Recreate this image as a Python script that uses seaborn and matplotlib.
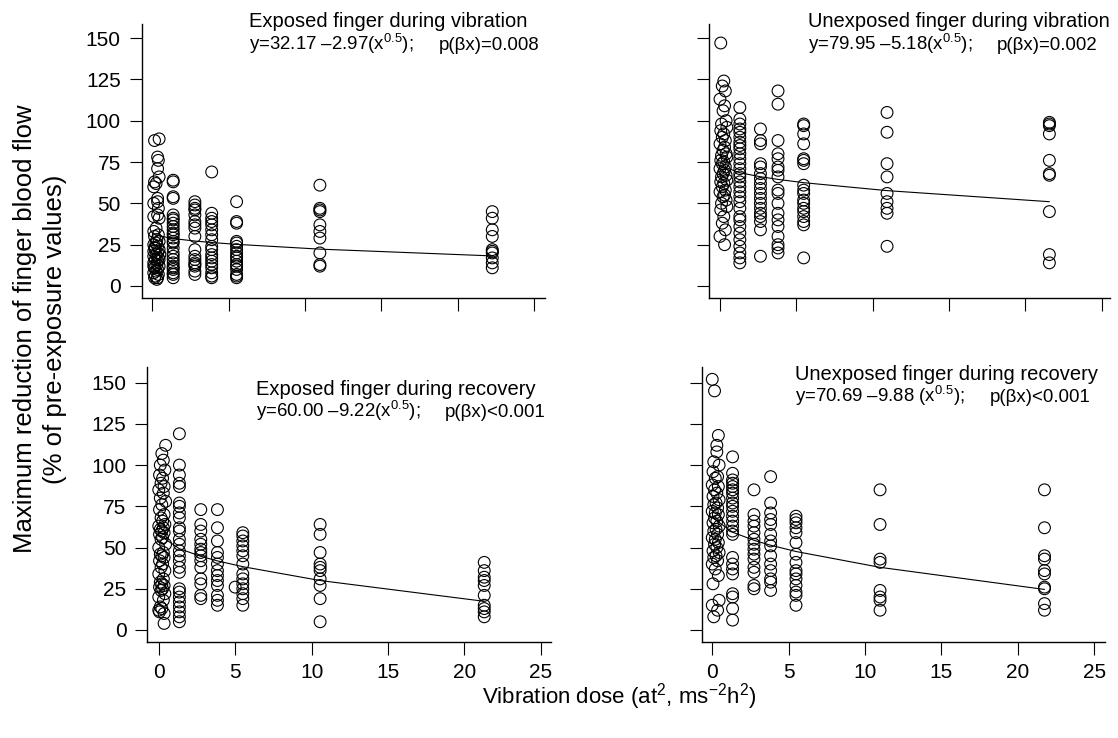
import matplotlib
matplotlib.use("Agg")
import matplotlib.pyplot as plt
import numpy as np
import pandas as pd
import seaborn as sns

# ------------------------------------------------------------------ data
DOSE_TICKS = [0, 5, 10, 15, 20, 25]
Y_TICKS = [0, 25, 50, 75, 100, 125, 150]

# Panel 1: exposed finger during vibration
EV_LOW_X = [0.15, 0.45, 0.35, 0.40, 0.35, 0.45, 0.15, 0.10, 0.25, 0.35,
            0.10, 0.35, 0.40, 0.10, 0.35, 0.45, 0.25, 0.10, 0.40, 0.15,
            0.30, 0.45, 0.10, 0.35, 0.20, 0.45, 0.10, 0.35, 0.25, 0.10,
            0.40, 0.20, 0.35, 0.10, 0.30, 0.45, 0.15, 0.35, 0.25, 0.10,
            0.40, 0.20, 0.35, 0.15, 0.30, 0.50, 0.15, 0.25, 0.45, 0.10]
EV_LOW_Y = [88, 89, 78, 76, 71, 66, 63, 60, 62, 53,
            50, 51, 47, 42, 43, 41, 35, 33, 31, 30,
            28, 27, 25, 24, 23, 22, 21, 20, 19, 18,
            17, 16, 15, 14, 13, 12, 11, 10, 9, 8,
            7, 6, 5, 5, 4, 19, 23, 26, 16, 12]
EV_DOSES = [1.37, 2.79, 3.89, 5.52, 10.97, 22.25]
EV_C1 = [63, 64, 54, 53, 43, 41, 40, 38, 36, 34, 32, 31, 29, 27, 26, 23,
         20, 18, 16, 14, 12, 11, 10, 8, 7, 5]
EV_C2 = [51, 49, 47, 46, 43, 39, 37, 35, 30, 22, 18, 16, 14, 13, 12, 9, 7]
EV_C3 = [69, 44, 41, 39, 37, 34, 31, 28, 24, 22, 19, 17, 15, 13, 11, 8, 6, 5]
EV_C4 = [51, 39, 38, 27, 26, 24, 22, 20, 18, 17, 15, 13, 12, 10, 7, 6, 5]
EV_C5 = [61, 47, 46, 45, 37, 33, 29, 20, 13, 12]
EV_C6 = [45, 41, 34, 30, 22, 21, 20, 17, 14, 11]
EV_FIT_X = [0.2, 1.37, 2.79, 3.89, 5.52, 10.97, 22.25]
EV_FIT_Y = [30.8, 28.7, 27.2, 26.3, 25.2, 22.3, 18.2]

# Panel 2: unexposed finger during vibration
UV_LOW_X = [0.05, 0.25, 0.15, 0.35, 0.00, 0.30, 0.20, 0.40, 0.10, 0.45,
            0.05, 0.25, 0.15, 0.35, 0.00, 0.30, 0.20, 0.40, 0.10, 0.45,
            0.05, 0.25, 0.15, 0.35, 0.00, 0.30, 0.20, 0.40, 0.10, 0.45,
            0.05, 0.25, 0.15, 0.35, 0.00, 0.30, 0.20, 0.40, 0.10, 0.45,
            0.05, 0.25, 0.15, 0.35, 0.00, 0.30]
UV_LOW_Y = [147, 124, 121, 118, 113, 109, 106, 100, 98, 96,
            94, 92, 90, 88, 86, 84, 82, 80, 79, 78,
            76, 75, 74, 72, 71, 70, 68, 67, 66, 64,
            63, 62, 60, 58, 57, 55, 54, 52, 50, 48,
            46, 42, 38, 34, 30, 25]
UV_DOSES = [1.30, 2.65, 3.80, 5.48, 10.94, 21.57]
UV_C1 = [108, 101, 98, 95, 93, 90, 87, 85, 83, 80, 77, 74, 71, 68, 66, 63,
         60, 57, 54, 51, 47, 42, 40, 36, 32, 28, 24, 20, 17, 14]
UV_C2 = [95, 88, 86, 74, 72, 68, 65, 62, 59, 56, 53, 50, 47, 44, 42, 39, 34, 18]
UV_C3 = [118, 110, 88, 80, 77, 72, 70, 66, 58, 56, 50, 44, 40, 36, 30, 25, 23, 20]
UV_C4 = [98, 97, 92, 86, 77, 76, 74, 61, 58, 56, 52, 50, 47, 45, 42, 39, 37, 17]
UV_C5 = [105, 93, 74, 66, 56, 51, 47, 44, 24]
UV_C6 = [99, 98, 97, 92, 76, 68, 67, 45, 19, 14]
UV_FIT_X = [0.1, 1.30, 2.65, 3.80, 5.48, 10.94, 21.57]
UV_FIT_Y = [72.6, 68.5, 66.1, 64.5, 62.5, 57.7, 51.0]

# Panel 3: exposed finger during recovery
ER_LOW_X = [0.45, 0.20, 0.30, 0.10, 0.40, 0.05, 0.25, 0.15, 0.35, 0.00,
            0.30, 0.10, 0.45, 0.20, 0.05, 0.35, 0.15, 0.25, 0.40, 0.00,
            0.30, 0.10, 0.20, 0.35, 0.05, 0.25, 0.15, 0.45, 0.00, 0.30,
            0.10, 0.20, 0.35, 0.05, 0.25, 0.15, 0.40, 0.00, 0.30, 0.10,
            0.20, 0.35, 0.05, 0.25, 0.15, 0.40, 0.00, 0.30, 0.10, 0.20,
            0.00, 0.05, 0.35, 0.35]
ER_LOW_Y = [112, 107, 103, 100, 97, 94, 92, 89, 87, 85,
            83, 80, 78, 76, 73, 70, 68, 66, 64, 63,
            62, 61, 60, 59, 58, 56, 55, 52, 50, 47,
            46, 45, 44, 42, 40, 38, 36, 34, 31, 29,
            28, 27, 26, 25, 24, 22, 20, 18, 14, 13,
            12, 11, 10, 4]
ER_DOSES = [1.35, 2.75, 3.84, 5.50, 10.56, 21.30]
ER_C1 = [119, 100, 94, 89, 87, 77, 75, 71, 68, 62, 60, 55, 52, 48, 45, 42,
         38, 35, 25, 23, 20, 17, 14, 11, 8, 5]
ER_C2 = [73, 64, 60, 55, 52, 49, 47, 45, 42, 38, 31, 28, 21, 19]
ER_C3 = [73, 62, 54, 47, 44, 40, 36, 33, 30, 27, 21, 18, 15]
ER_C4 = [59, 57, 54, 51, 48, 45, 40, 34, 31, 28, 25, 22, 19, 15]
ER_C5 = [64, 58, 47, 40, 38, 36, 31, 27, 19, 5]
ER_C6 = [41, 36, 32, 30, 27, 21, 15, 13, 11, 8]
ER_EXTRA_X = [5.0]
ER_EXTRA_Y = [26]
ER_FIT_X = [0.1, 1.35, 2.75, 3.84, 5.50, 10.56, 21.30]
ER_FIT_Y = [57.1, 49.3, 44.7, 41.9, 38.4, 30.0, 17.4]

# Panel 4: unexposed finger during recovery
UR_LOW_X = [0.00, 0.15, 0.40, 0.30, 0.30, 0.10, 0.45, 0.05, 0.35, 0.20,
            0.00, 0.40, 0.15, 0.30, 0.05, 0.45, 0.25, 0.10, 0.35, 0.00,
            0.20, 0.40, 0.15, 0.30, 0.05, 0.45, 0.25, 0.10, 0.35, 0.00,
            0.20, 0.40, 0.15, 0.30, 0.05, 0.45, 0.25, 0.10, 0.35, 0.00,
            0.20, 0.40, 0.05, 0.45, 0.00, 0.35, 0.10]
UR_LOW_Y = [152, 145, 118, 112, 108, 102, 100, 96, 93, 92,
            88, 87, 85, 83, 81, 79, 77, 76, 74, 72,
            71, 70, 68, 66, 65, 63, 61, 60, 58, 56,
            55, 53, 52, 50, 48, 47, 45, 44, 42, 40,
            37, 33, 28, 18, 15, 12, 8]
UR_DOSES = [1.33, 2.73, 3.82, 5.48, 10.98, 21.74]
UR_C1 = [105, 95, 91, 89, 87, 85, 83, 80, 77, 75, 72, 69, 66, 63, 60, 58,
         44, 40, 37, 34, 22, 20, 13, 6]
UR_C2 = [85, 70, 66, 63, 59, 55, 52, 49, 46, 43, 38, 35, 27, 25]
UR_C3 = [93, 77, 71, 67, 64, 58, 54, 51, 45, 40, 36, 31, 29, 24]
UR_C4 = [69, 67, 65, 62, 59, 53, 46, 41, 36, 34, 31, 27, 23, 21, 15]
UR_C5 = [85, 64, 43, 41, 24, 20, 18, 12]
UR_C6 = [85, 62, 45, 43, 36, 34, 26, 25, 16, 12]
UR_FIT_X = [0.1, 1.33, 2.73, 3.82, 5.48, 10.98, 21.74]
UR_FIT_Y = [67.6, 59.3, 54.4, 51.4, 47.6, 38.0, 24.6]

TITLES = ["Exposed finger during vibration", "Unexposed finger during vibration",
          "Exposed finger during recovery", "Unexposed finger during recovery"]
EQUATIONS = ["y=32.17 \u20132.97(x$^{0.5}$);", "y=79.95 \u20135.18(x$^{0.5}$);",
             "y=60.00 \u20139.22(x$^{0.5}$);", "y=70.69 \u20139.88 (x$^{0.5}$);"]
PVALUES = ["p(\u03b2x)=0.008", "p(\u03b2x)=0.002",
           "p(\u03b2x)<0.001", "p(\u03b2x)<0.001"]
YLABEL = "Maximum reduction of finger blood flow\n(% of pre-exposure values)"
XLABEL = "Vibration dose (at$^{2}$, ms$^{-2}$h$^{2}$)"

# ------------------------------------------------------------------ style
sns.set_style("ticks")
plt.rcParams["font.family"] = ["Liberation Sans", "DejaVu Sans"]
plt.rcParams["mathtext.fontset"] = "custom"
plt.rcParams["mathtext.rm"] = "Liberation Sans"
plt.rcParams["mathtext.it"] = "Liberation Sans:italic"
plt.rcParams["mathtext.bf"] = "Liberation Sans:bold"
plt.rcParams["mathtext.default"] = "regular"
plt.rcParams["text.color"] = "black"
plt.rcParams["axes.labelcolor"] = "black"
plt.rcParams["xtick.color"] = "black"
plt.rcParams["ytick.color"] = "black"
plt.rcParams["axes.edgecolor"] = "black"

W, H = 1118, 738
fig = plt.figure(figsize=(W / 100, H / 100), dpi=100)


def px(x, y):
    return x / W, 1 - y / H


# axes rectangles (pixels: left, right, top, bottom) and limits
PANELS = [
    dict(rect=(141.7, 545.0, 24.0, 298.0), xlim=(-0.69, 25.70), ylim=(-7.26, 158.5),
         low=(EV_LOW_X, EV_LOW_Y), doses=EV_DOSES,
         cols=[EV_C1, EV_C2, EV_C3, EV_C4, EV_C5, EV_C6], extra=([], []),
         fit=(EV_FIT_X, EV_FIT_Y), xl=False, yl=True),
    dict(rect=(709.3, 1110.0, 24.0, 298.0), xlim=(-0.70, 25.54), ylim=(-7.26, 158.5),
         low=(UV_LOW_X, UV_LOW_Y), doses=UV_DOSES,
         cols=[UV_C1, UV_C2, UV_C3, UV_C4, UV_C5, UV_C6], extra=([], []),
         fit=(UV_FIT_X, UV_FIT_Y), xl=False, yl=False),
    dict(rect=(147.3, 550.7, 367.3, 642.3), xlim=(-0.75, 25.65), ylim=(-7.46, 159.3),
         low=(ER_LOW_X, ER_LOW_Y), doses=ER_DOSES,
         cols=[ER_C1, ER_C2, ER_C3, ER_C4, ER_C5, ER_C6], extra=(ER_EXTRA_X, ER_EXTRA_Y),
         fit=(ER_FIT_X, ER_FIT_Y), xl=True, yl=True),
    dict(rect=(701.7, 1105.0, 367.3, 642.3), xlim=(-0.69, 25.70), ylim=(-7.46, 159.3),
         low=(UR_LOW_X, UR_LOW_Y), doses=UR_DOSES,
         cols=[UR_C1, UR_C2, UR_C3, UR_C4, UR_C5, UR_C6], extra=([], []),
         fit=(UR_FIT_X, UR_FIT_Y), xl=True, yl=False),
]

for p in PANELS:
    l, r, t, b = p["rect"]
    ax = fig.add_axes([l / W, 1 - b / H, (r - l) / W, (b - t) / H])
    xs = list(p["low"][0]) + list(p["extra"][0])
    ys = list(p["low"][1]) + list(p["extra"][1])
    for d, c in zip(p["doses"], p["cols"]):
        xs += [d] * len(c)
        ys += list(c)
    df = pd.DataFrame({"dose": xs, "value": ys})
    sns.scatterplot(data=df, x="dose", y="value", ax=ax, marker="o", s=72,
                    color="black", facecolor="none", edgecolor="black",
                    linewidth=0.8, legend=False, zorder=2)
    fit = pd.DataFrame({"dose": p["fit"][0], "value": p["fit"][1]})
    sns.lineplot(data=fit, x="dose", y="value", ax=ax, color="black",
                 linewidth=0.8, estimator=None, sort=False, zorder=3)
    ax.set_xlim(*p["xlim"])
    ax.set_ylim(*p["ylim"])
    ax.set_xticks(DOSE_TICKS)
    ax.set_yticks(Y_TICKS)
    ax.set_xlabel("")
    ax.set_ylabel("")
    ax.tick_params(axis="both", direction="out", length=9, width=0.8,
                   color="black", labelsize=15, pad=6, labelcolor="black")
    ax.tick_params(axis="x", labelbottom=p["xl"])
    ax.tick_params(axis="y", labelleft=p["yl"])
    for s in ["top", "right"]:
        ax.spines[s].set_visible(False)
    for s in ["left", "bottom"]:
        ax.spines[s].set_linewidth(1.0)
        ax.spines[s].set_color("black")
    ax.set_facecolor("white")

# panel annotations (pixel positions: title x, title baseline, eq baseline, p x)
ANN = [(249.0, 27.3, 50.0, 438.3),
       (808.3, 27.3, 50.0, 996.7),
       (255.7, 395.0, 416.7, 445.0),
       (795.0, 380.0, 401.7, 990.0)]
for (x0, yt, ye, xp), title, eq, pv in zip(ANN, TITLES, EQUATIONS, PVALUES):
    fig.text(*px(x0, yt), title, fontsize=14.5, ha="left", va="baseline",
             color="black")
    fig.text(*px(x0, ye), eq, fontsize=13.4, ha="left", va="baseline",
             color="black")
    fig.text(*px(xp, ye), pv, fontsize=13.4, ha="left", va="baseline",
             color="black")

fig.text(*px(40, 329), YLABEL, rotation=90, fontsize=18.5, ha="center",
         va="center", multialignment="center", linespacing=1.3, color="black")
fig.text(*px(481.7, 704), XLABEL, fontsize=16, ha="left", va="baseline",
         color="black")

fig.savefig("out.png", dpi=100, facecolor="white")
